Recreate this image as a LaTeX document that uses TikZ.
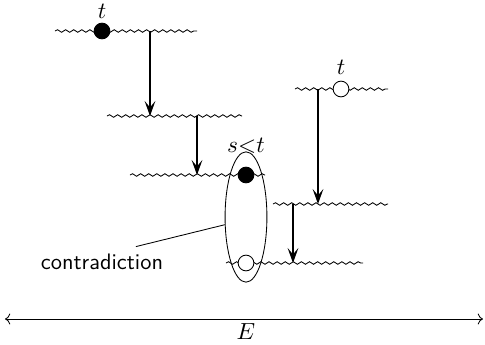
\documentclass[tikz,border=0pt]{standalone}
\usetikzlibrary{decorations.pathmorphing,arrows.meta,shapes.geometric}
\tikzset{
  level/.style={decorate, decoration={snake, amplitude=0.6pt, segment length=3.8pt}},
  jump/.style={line width=1pt, -{Stealth[length=7pt,width=5pt,inset=3pt]}},
  particle/.style={circle, draw, minimum size=0.26cm, inner sep=0pt},
}
\begin{document}
\begin{tikzpicture}[x=0.0165cm,y=-0.0165cm, font=\fontsize{10.5pt}{12pt}\selectfont]
  \useasboundingbox (0,0) rectangle (485,345);

  % energy levels, left column
  \draw[level] (55,31) -- (197,31);
  \draw[level] (107,116) -- (242,116);
  \draw[level] (130,175) -- (265,175);
  % energy levels, right column
  \draw[level] (295,89) -- (388,89);
  \draw[level] (273,204) -- (388,204);
  \draw[level] (226,263) -- (363,263);

  % jump points
  \coordinate (a1) at (150,31);
  \coordinate (a2) at (150,116);
  \coordinate (b1) at (197,116);
  \coordinate (b2) at (197,175);
  \coordinate (c1) at (318,89);
  \coordinate (c2) at (318,204);
  \coordinate (d1) at (293,204);
  \coordinate (d2) at (293,263);
  \draw[jump] (a1) -- (a2);
  \draw[jump] (b1) -- (b2);
  \draw[jump] (c1) -- (c2);
  \draw[jump] (d1) -- (d2);

  % particles
  \node[particle, fill=black] (p1) at (102,31) {};
  \node (tp1) at (102,11) {$t$};
  \node[particle, fill=white] (q1) at (341,89) {};
  \node (tq1) at (341,67) {$t$};
  \node[particle, fill=black] (p2) at (246,175) {};
  \node[particle, fill=white] (q2) at (246,263) {};

  % contradiction
  \node[ellipse, draw, thin, minimum width=0.69cm, minimum height=2.15cm] (clash) at (246,217) {};
  \node (st) at (246,146) {$s{<}t$};
  \node (note) at (102,262) {\sffamily contradiction};
  \draw ([xshift=0.56cm]note.north) -- (clash.200);

  % energy axis
  \coordinate (emin) at (5,319);
  \coordinate (emax) at (483,319);
  \draw[<->] (emin) -- (emax);
  \node (energy) at (246,332) {$E$};
\end{tikzpicture}
\end{document}
